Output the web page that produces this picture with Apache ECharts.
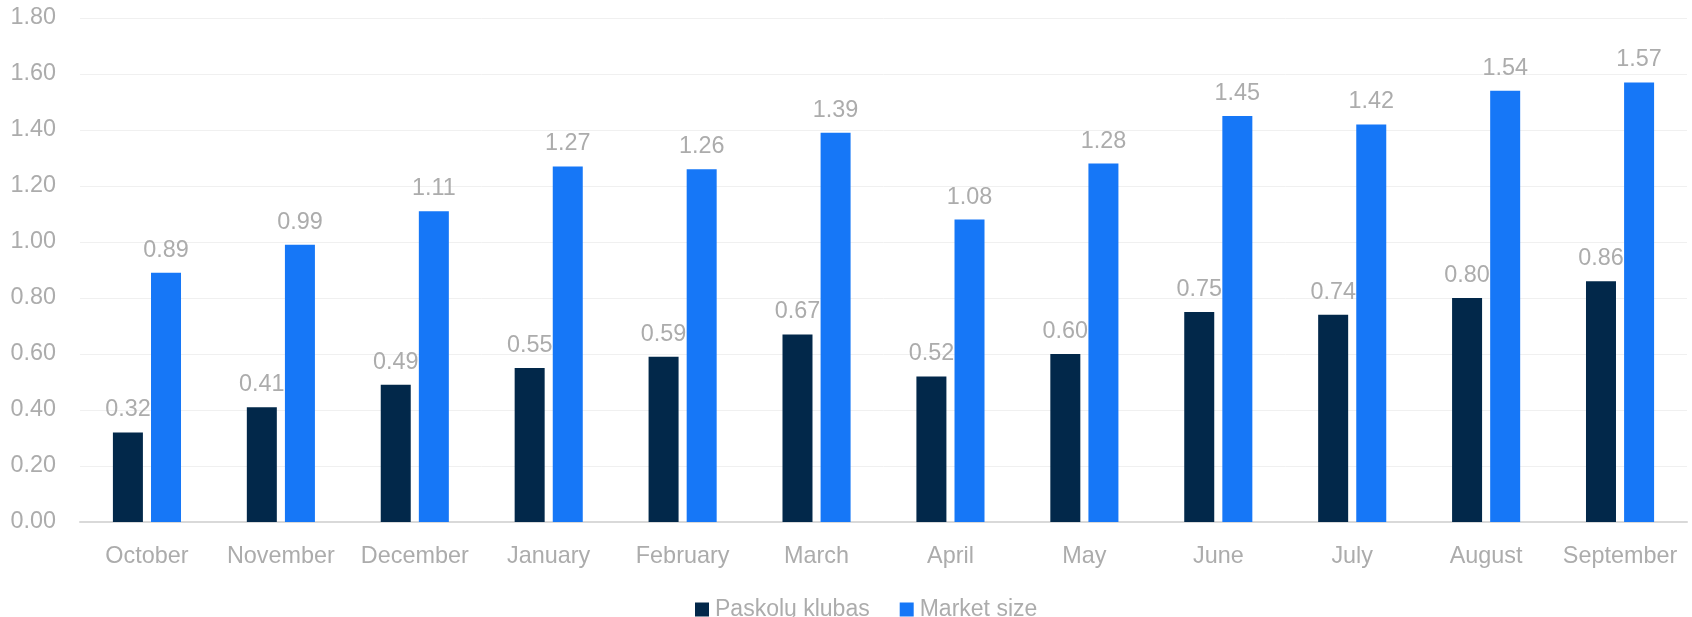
<!DOCTYPE html>
<html>
<head>
<meta charset="utf-8">
<script src="https://cdn.jsdelivr.net/npm/echarts@6/dist/echarts.min.js"></script>
<style>
html,body{margin:0;padding:0;background:#fff;}
#chart{width:1692px;height:617px;}
</style>
</head>
<body>
<div id="chart"></div>
<script>
const categories = ['October','November','December','January','February','March','April','May','June','July','August','September'];
const paskoluKlubas = [0.32,0.41,0.49,0.55,0.59,0.67,0.52,0.60,0.75,0.74,0.80,0.86];
const marketSize = [0.89,0.99,1.11,1.27,1.26,1.39,1.08,1.28,1.45,1.42,1.54,1.57];
const seriesNames = ['Paskolų klubas','Market size'];

const FONT = '"Liberation Sans", Arial, Helvetica, sans-serif';
const GRAY = '#acacac';
const FS = 23.4;
const chart = echarts.init(document.getElementById('chart'), null, {renderer:'canvas'});
const labelCfg = {
  show: true, position: 'top', distance: 11,
  color: GRAY, fontSize: FS, fontFamily: FONT,
  formatter: p => p.value.toFixed(2)
};
chart.setOption({
  animation: false,
  backgroundColor: '#fff',
  grid: {left: 80, right: 5, top: 18, bottom: 95, containLabel: false},
  legend: {
    bottom: -9, left: 690,
    itemWidth: 14, itemHeight: 14, itemGap: 30,
    icon: 'rect',
    textStyle: {color: GRAY, fontSize: 23, fontFamily: FONT, padding: [0,0,0,1]},
    data: seriesNames
  },
  xAxis: {
    type: 'category', data: categories,
    axisLine: {lineStyle: {color: '#d9d9d9', width: 2}},
    axisTick: {show: false},
    axisLabel: {color: GRAY, fontSize: FS, fontFamily: FONT, margin: 23, interval: 0}
  },
  yAxis: {
    type: 'value', min: 0, max: 1.8, interval: 0.2,
    axisLine: {show: false}, axisTick: {show: false},
    splitLine: {lineStyle: {color: '#f0f0f0', width: 1}},
    axisLabel: {color: GRAY, fontSize: FS, fontFamily: FONT, margin: 24,
      formatter: v => v.toFixed(2)}
  },
  series: [
    {name: seriesNames[0], type: 'bar', data: paskoluKlubas, barWidth: 30, barGap: '27%',
     itemStyle: {color: '#02284a'}, label: labelCfg},
    {name: seriesNames[1], type: 'bar', data: marketSize, barWidth: 30,
     itemStyle: {color: '#1677f7'}, label: labelCfg}
  ]
});
</script>
</body>
</html>
